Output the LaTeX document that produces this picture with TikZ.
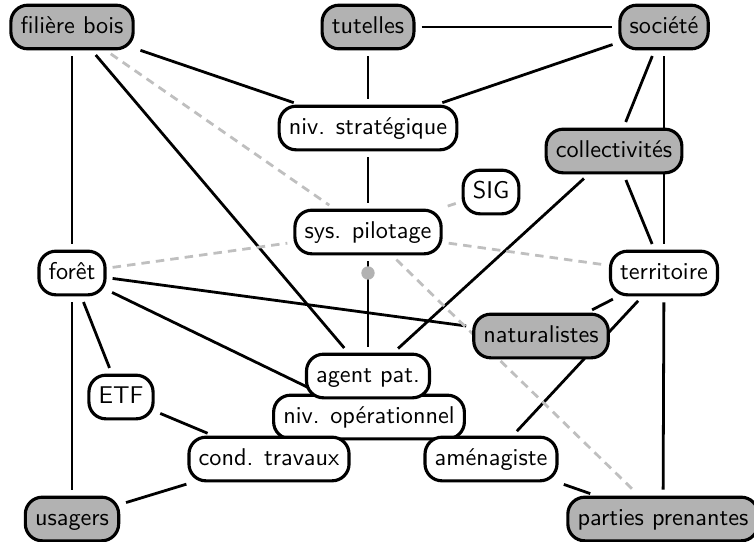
\documentclass[tikz,border=0pt]{standalone}
\usetikzlibrary{backgrounds}
\begin{document}
\begin{tikzpicture}[x=0.0145cm, y=-0.0145cm,
    actor/.style={draw, line width=1.3pt, rounded corners=7pt, fill=white,
        font=\sffamily, inner xsep=4pt, inner ysep=4.5pt,
        text height=7pt, text depth=2pt},
    extern/.style={actor, fill=gray!60},
    link/.style={line width=1.15pt, shorten >=2.5pt, shorten <=2.5pt},
    weak/.style={link, draw=gray!50, dash pattern=on 3.5pt off 2.5pt}]
    \useasboundingbox (0,0) rectangle (754,541);

    % Top row
    \node[extern] (fil) at (72,27) {filière bois};
    \node[extern] (tut) at (368,27) {tutelles};
    \node[extern] (soc) at (664,27) {société};

    % Middle
    \node[actor] (strat) at (368,128) {niv. stratégique};
    \node[extern] (coll) at (614,151) {collectivités};
    \node[actor] (sig) at (491,192) {SIG};
    \node[actor] (pil) at (368,232) {sys. pilotage};
    \node[actor] (foret) at (72,273) {forêt};
    \node[actor] (terr) at (664,273) {territoire};
    \node[extern] (nat) at (541,336) {naturalistes};
    \node[circle, fill=gray!60, inner sep=0pt, minimum size=5.5pt] (hub) at (368,273) {};

    % Operational level
    \node[actor] (oper) at (369,417) {niv. opérationnel};
    \node[actor] (agent) at (368,376) {agent pat.};
    \node[actor] (etf) at (121,397) {ETF};
    \node[actor] (cond) at (269,459) {cond. travaux};
    \node[actor] (amen) at (491,459) {aménagiste};

    % Bottom row
    \node[extern] (usa) at (72,519) {usagers};
    \node[extern] (pp) at (663,519) {parties prenantes};

    \begin{scope}[on background layer]
        % Solid links
        \draw[link] (fil) -- (foret);
        \draw[link] (fil) -- (agent);
        \draw[link] (fil) -- (strat);
        \draw[link] (tut) -- (soc);
        \draw[link] (tut) -- (strat);
        \draw[link] (soc) -- (strat);
        \draw[link] (soc) -- (coll);
        \draw[link] (soc) -- (terr);
        \draw[link] (coll) -- (agent);
        \draw[link] (coll) -- (terr);
        \draw[link] (strat) -- (pil);
        \draw[link] (pil) -- (agent);
        \draw[link] (foret) -- (nat);
        \draw[link] (foret) -- (oper);
        \draw[link] (foret) -- (etf);
        \draw[link] (foret) -- (usa);
        \draw[link] (etf) -- (cond);
        \draw[link] (usa) -- (cond);
        \draw[link] (terr) -- (nat);
        \draw[link] (terr) -- (amen);
        \draw[link] (terr) -- (pp);
        \draw[link] (amen) -- (pp);

        % Dashed links
        \draw[weak] (fil) -- (pil);
        \draw[weak] (pil) -- (pp);
        \draw[weak] (foret) -- (pil);
        \draw[weak] (pil) -- (terr);
        \draw[weak] (sig) -- (pil);
    \end{scope}
\end{tikzpicture}
\end{document}
